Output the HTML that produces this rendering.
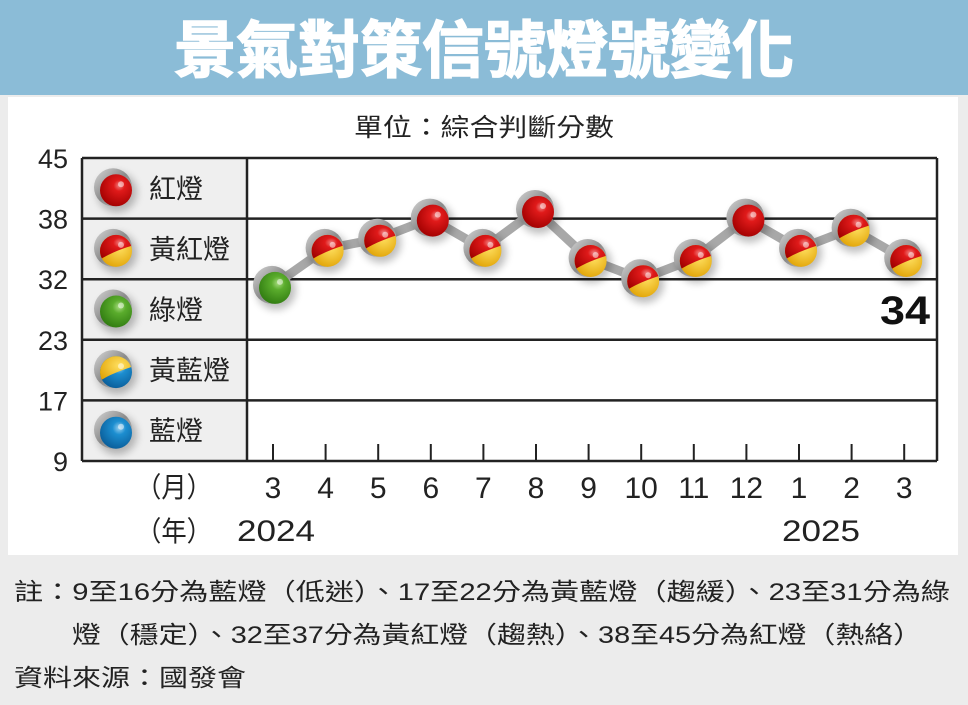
<!DOCTYPE html>
<html><head><meta charset="utf-8"><style>
body{margin:0;background:#ececec;}
svg{display:block;font-family:"Liberation Sans","Noto Sans CJK TC",sans-serif;}
</style></head><body>
<svg width="968" height="705" viewBox="0 0 968 705">
<defs>
<radialGradient id="gRed" cx="0.6" cy="0.35" r="0.7"><stop offset="0" stop-color="#f08080"/><stop offset="0.25" stop-color="#e01a1a"/><stop offset="1" stop-color="#a00000"/></radialGradient>
<radialGradient id="gYel" cx="0.6" cy="0.4" r="0.7"><stop offset="0" stop-color="#ffe060"/><stop offset="1" stop-color="#e0a000"/></radialGradient>
<radialGradient id="gGrn" cx="0.6" cy="0.35" r="0.7"><stop offset="0" stop-color="#a8dc80"/><stop offset="0.3" stop-color="#5aac2c"/><stop offset="1" stop-color="#2f7a10"/></radialGradient>
<radialGradient id="gBlu" cx="0.6" cy="0.35" r="0.7"><stop offset="0" stop-color="#9ad0f0"/><stop offset="0.3" stop-color="#1c8ed0"/><stop offset="1" stop-color="#0a5c98"/></radialGradient>
<linearGradient id="gShell" x1="0" y1="0" x2="1" y2="1"><stop offset="0" stop-color="#d8d8d8"/><stop offset="0.5" stop-color="#8a8a8a"/><stop offset="1" stop-color="#c8c8c8"/></linearGradient>
<clipPath id="ballClip" clipPathUnits="userSpaceOnUse"><circle cx="2" cy="2" r="16"/></clipPath>
<filter id="shadow" x="-50%" y="-50%" width="200%" height="200%"><feGaussianBlur stdDeviation="4"/></filter>
</defs>
<rect x="0" y="0" width="968" height="705" fill="#ececec"/>
<rect x="0" y="0" width="968" height="95" fill="#8bbcd7"/>
<text x="484" y="72" text-anchor="middle" font-size="62" font-weight="bold" fill="#fff" stroke="#fff" stroke-width="1.5" textLength="620" lengthAdjust="spacingAndGlyphs">景氣對策信號燈號變化</text>
<rect x="8" y="97" width="950" height="458" fill="#fff"/>
<text x="484" y="136" text-anchor="middle" font-size="25" fill="#222" textLength="260" lengthAdjust="spacingAndGlyphs">單位：綜合判斷分數</text>
<rect x="82" y="158" width="165" height="303" fill="#efefef"/>
<g id="grid"></g>
<g id="ylabels"></g>
<g id="legend"></g>
<g id="series"></g>
<g id="xlabels"></g>
<text x="930" y="324" text-anchor="end" font-size="40" font-weight="bold" fill="#111" textLength="50" lengthAdjust="spacingAndGlyphs">34</text>
<text x="136" y="497" font-size="28" fill="#222" textLength="76" lengthAdjust="spacingAndGlyphs">（月）</text>
<text x="136" y="541" font-size="28" fill="#222" textLength="76" lengthAdjust="spacingAndGlyphs">（年）</text>
<text x="237" y="541" font-size="30" fill="#222" textLength="78" lengthAdjust="spacingAndGlyphs">2024</text>
<text x="782" y="541" font-size="30" fill="#222" textLength="78" lengthAdjust="spacingAndGlyphs">2025</text>
<text x="14" y="600" font-size="24" fill="#222" textLength="936" lengthAdjust="spacingAndGlyphs">註：9至16分為藍燈（低迷）、17至22分為黃藍燈（趨緩）、23至31分為綠</text>
<text x="72" y="643" font-size="24" fill="#222" textLength="850" lengthAdjust="spacingAndGlyphs">燈（穩定）、32至37分為黃紅燈（趨熱）、38至45分為紅燈（熱絡）</text>
<text x="14" y="686" font-size="24" fill="#222" textLength="232" lengthAdjust="spacingAndGlyphs">資料來源：國發會</text>
</svg>
<script>
const months=["3","4","5","6","7","8","9","10","11","12","1","2","3"];
const scores=[31,35,36,38,35,39,34,32,34,38,35,37,34];
const bandTicks=[45,38,32,23,17,9];
const legendNames=["紅燈","黃紅燈","綠燈","黃藍燈","藍燈"];
const legendKinds=["red","redyellow","green","yellowblue","blue"];
const NS="http://www.w3.org/2000/svg";
const yTop=158,bandH=60.6,xLeft=82,xRight=937,legendRight=247,x0=273,xStep=52.6;
function yScale(v){
  for(let i=0;i<bandTicks.length-1;i++){
    const hi=bandTicks[i],lo=bandTicks[i+1];
    if(v<=hi&&v>=lo) return yTop+i*bandH+(hi-v)/(hi-lo)*bandH;
  }
  return v>bandTicks[0]?yTop:yTop+5*bandH;
}
function xScale(i){return x0+i*xStep;}
function mk(tag,attrs,parent){const e=document.createElementNS(NS,tag);for(const k in attrs)e.setAttribute(k,attrs[k]);parent.appendChild(e);return e;}
function kindOf(v){return v>=38?"red":v>=32?"redyellow":v>=23?"green":v>=17?"yellowblue":"blue";}
function ball(parent,cx,cy,kind){
  const g=mk("g",{transform:"translate("+cx+","+cy+")"},parent);
  mk("circle",{cx:3,cy:4,r:20,fill:"#000",opacity:0.25,filter:"url(#shadow)"},g);
  mk("circle",{cx:-1,cy:-1,r:19,fill:"url(#gShell)"},g);
  if(kind==="red"||kind==="green"||kind==="blue"){
    mk("circle",{cx:2,cy:2,r:16,fill:kind==="red"?"url(#gRed)":kind==="green"?"url(#gGrn)":"url(#gBlu)"},g);
  }else{
    const low=kind==="redyellow"?"url(#gYel)":"url(#gBlu)";
    const high=kind==="redyellow"?"url(#gRed)":"url(#gYel)";
    mk("circle",{cx:2,cy:2,r:16,fill:low},g);
    mk("path",{d:"M-16,12 C-4,4 8,0 20,-4 L20,-16 L-16,-16 Z",fill:high,"clip-path":"url(#ballClip)"},g);
  }
  mk("circle",{cx:7,cy:-4,r:3,fill:"#fff",opacity:0.5},g);
  return g;
}
const grid=document.getElementById("grid");
for(let i=0;i<bandTicks.length;i++){
  const l=mk("line",{x1:xLeft,x2:xRight,y1:yScale(bandTicks[i]),y2:yScale(bandTicks[i]),stroke:"#222","stroke-width":2.5},grid);
  
  
}
mk("line",{x1:xLeft,x2:xLeft,y1:yTop,y2:yTop+5*bandH,stroke:"#222","stroke-width":2.5},grid);
mk("line",{x1:legendRight,x2:legendRight,y1:yTop,y2:yTop+5*bandH,stroke:"#222","stroke-width":2.5},grid);
mk("line",{x1:xRight,x2:xRight,y1:yTop,y2:yTop+5*bandH,stroke:"#222","stroke-width":2.5},grid);
months.forEach(function(m,i){mk("line",{x1:xScale(i),x2:xScale(i),y1:444,y2:461,stroke:"#222","stroke-width":2},grid);});
const yl=document.getElementById("ylabels");
bandTicks.forEach(function(t){
  const e=mk("text",{x:68,y:yScale(t)+10,"text-anchor":"end","font-size":27,fill:"#222"},yl);
  e.textContent=t;
  
  
});
const lg=document.getElementById("legend");
legendNames.forEach(function(n,i){
  const cy=yTop+(i+0.5)*bandH;
  const b=ball(lg,114,cy,legendKinds[i]);
  
  
  const t=mk("text",{x:149,y:cy+10,"font-size":27,fill:"#222"},lg);
  t.textContent=n;
  
  
});
const s=document.getElementById("series");
const pts=scores.map(function(v,i){return xScale(i)+","+yScale(v);}).join(" ");
const line=mk("polyline",{points:pts,fill:"none",stroke:"#a8a8a8","stroke-width":9},s);


scores.forEach(function(v,i){
  const b=ball(s,xScale(i),yScale(v),kindOf(v));
  
  
});
const xl=document.getElementById("xlabels");
months.forEach(function(m,i){
  const t=mk("text",{x:xScale(i),y:498,"text-anchor":"middle","font-size":30,fill:"#222"},xl);
  t.textContent=m;
  
  
});
</script>
</body></html>
